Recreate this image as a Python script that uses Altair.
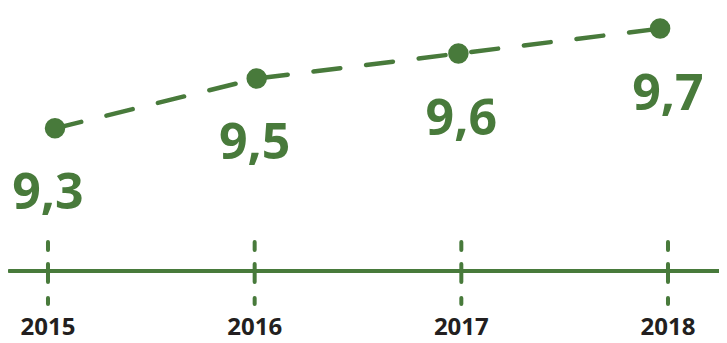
import altair as alt
import pandas as pd

years = [2015, 2016, 2017, 2018]
values = [9.3, 9.5, 9.6, 9.7]
labels = ["9,3", "9,5", "9,6", "9,7"]

GREEN = "#487a3b"
df = pd.DataFrame({"year": years, "value": values, "label": labels,
                   "ylabel": [str(y) for y in years]})

W, H = 711, 335
# scale for axis ticks and text labels
xt = alt.Scale(domain=[2014.8065, 2018.2468], range=[0, W], nice=False, zero=False)
# scale for the plotted points/line
xp = alt.Scale(domain=[2014.767, 2018.292], range=[0, W], nice=False, zero=False)
ys = alt.Scale(domain=[8.4394, 9.7826], range=[H, 0], nice=False, zero=False)

base = alt.Chart(df)

axis_line = base.mark_rule(color=GREEN, strokeWidth=4, strokeCap="round").encode(
    x=alt.value(2), x2=alt.value(W + 20), y=alt.value(263)
)

ticks = base.mark_rule(color=GREEN, strokeWidth=4, strokeDash=[8, 14, 18, 16, 6], strokeCap="round").encode(
    x=alt.X("year:Q", scale=xt, axis=None), y=alt.value(234), y2=alt.value(296)
)

ylabels = base.mark_text(color="#231f20", font="Open Sans", fontWeight="bold", fontSize=24,
                         baseline="middle", align="center").encode(
    x=alt.X("year:Q", scale=xt, axis=None), y=alt.value(320), text="ylabel:N"
)

vlabels = base.mark_text(color=GREEN, font="Open Sans", fontWeight="bold", fontSize=50,
                         baseline="middle", align="center", dy=66).encode(
    x=alt.X("year:Q", scale=xt, axis=None), y=alt.Y("value:Q", scale=ys, axis=None), text="label:N"
)

text_layer = alt.layer(axis_line, ticks, ylabels, vlabels)

line = base.mark_line(color=GREEN, strokeWidth=4.5, strokeDash=[27, 26], strokeCap="round").encode(
    x=alt.X("year:Q", scale=xp, axis=None), y=alt.Y("value:Q", scale=ys, axis=None)
)

pts = base.mark_circle(color=GREEN, opacity=1, size=420).encode(
    x=alt.X("year:Q", scale=xp, axis=None), y=alt.Y("value:Q", scale=ys, axis=None)
)

point_layer = alt.layer(line, pts)

chart = alt.layer(text_layer, point_layer).resolve_scale(x="independent").properties(
    width=W, height=H, padding=0, autosize=alt.AutoSizeParams(type="none")
).configure_view(stroke=None)

chart.save("out.html", embed_options={"renderer": "svg", "actions": False})
